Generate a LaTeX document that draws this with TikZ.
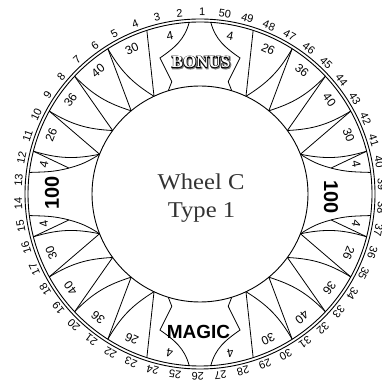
\documentclass[tikz,border=0pt]{standalone}
\usepackage{fontspec}
\setmainfont{Liberation Serif}
\setsansfont{Liberation Sans}
\newfontfamily\bonusfill{Liberation Serif Bold}
\newfontfamily\bonusline{Liberation Serif Bold}[FakeBold=8]
\newfontfamily\bonusshadefont{Liberation Serif Bold}[FakeBold=12]
\usepackage{graphicx}
\begin{document}
\begin{tikzpicture}[x=1pt,y=1pt,
  ringline/.style={line width=0.9pt,draw=black},
  segline/.style={line width=0.8pt,draw=black},
  numlab/.style={font=\fontsize{11}{11}\selectfont\sffamily, inner sep=0pt},
  vallab/.style={font=\fontsize{12}{12}\selectfont\sffamily, inner sep=0pt},
  bigval/.style={font=\fontsize{20}{20}\selectfont\sffamily\bfseries, inner sep=0pt},
  centertext/.style={font=\fontsize{22.6}{22.6}\selectfont, text=black!80, inner sep=0pt, anchor=base},
]
\useasboundingbox (0,0) rectangle (382,383);
\begin{scope}[shift={(200,189)}]
  \coordinate (C) at (0,0);
  \foreach \j in {0,...,49} {
    \coordinate (o\j) at (\j*7.2:172pt);
    \coordinate (n\j) at (\j*7.2:108pt);
  }
  \draw[ringline] (C) circle[radius=175pt];
  \draw[ringline] (C) circle[radius=172pt];
  \draw[ringline] (C) circle[radius=108pt];
  % regular runs
  \foreach \s/\ty in {15/1,27/2,40/1,2/2} {
    \foreach \t/\v in {0/30,1/40,2/36,3/26} {
      \pgfmathtruncatemacro\oa{\s+2*\t}
      \pgfmathtruncatemacro\ob{\s+2*\t+2}
      \pgfmathtruncatemacro\ap{\s+2*\t+1}
      \ifnum\ty=1
        \draw[segline] (o\oa) -- (n\ap);
        \draw[segline] (o\ob) to[bend right=14] (n\ap);
      \else
        \draw[segline] (o\ob) -- (n\ap);
        \draw[segline] (o\oa) to[bend left=14] (n\ap);
      \fi
      \pgfmathsetmacro\ang{\ap*7.2}
      \node[vallab, rotate=\ang-90] (v\ap) at (\ang:160pt) {\v};
    }
  }
  % 100 slots
  \coordinate (xlt) at (168.8:133.6pt);
  \coordinate (xlb) at (191.2:133.6pt);
  \coordinate (xrt) at (11.2:133.6pt);
  \coordinate (xrb) at (348.8:133.6pt);
  \draw[segline] (o23) -- (xlt);
  \draw[segline] (n22) to[out=213,in=15] (xlt) to[out=195,in=2] (o24);
  \draw[segline] (o27) -- (xlb);
  \draw[segline] (n28) to[out=147,in=-15] (xlb) to[out=165,in=-2] (o26);
  \draw[segline] (o2) -- (xrt);
  \draw[segline] (n3) to[out=-33,in=165] (xrt) to[out=-15,in=178] (o1);
  \draw[segline] (o48) -- (xrb);
  \draw[segline] (n47) to[out=33,in=195] (xrb) to[out=15,in=182] (o49);
  % BONUS / MAGIC slots
  \coordinate (pbl) at (106.4:141.8pt);
  \coordinate (qbl) at (104.1:115.8pt);
  \coordinate (rbl) at (107.1:108pt);
  \coordinate (pbr) at (73.6:141.8pt);
  \coordinate (qbr) at (75.9:115.8pt);
  \coordinate (rbr) at (72.9:108pt);
  \coordinate (pml) at (253.6:141.8pt);
  \coordinate (qml) at (255.9:115.8pt);
  \coordinate (rml) at (252.9:108pt);
  \coordinate (pmr) at (286.4:141.8pt);
  \coordinate (qmr) at (284.1:115.8pt);
  \coordinate (rmr) at (287.1:108pt);
  \draw[segline] (o13) to[out=255,in=35] (pbl) -- (qbl) -- (rbl);
  \draw[segline] (o12) to[out=285,in=145] (pbr) -- (qbr) -- (rbr);
  \draw[segline] (o37) to[out=105,in=-35] (pml) -- (qml) -- (rml);
  \draw[segline] (o38) to[out=75,in=215] (pmr) -- (qmr) -- (rmr);
  % small 4 labels
  \foreach \a/\r [count=\i] in {100.8/161pt, 79.2/161pt, 259.2/162pt, 280.8/162pt, 169.2/159pt, 190.8/159pt, 10.8/159pt, 349.2/159pt} {
    \node[vallab, rotate=\a-90] (four\i) at (\a:\r) {4};
  }
  % big labels
  \node[bigval, rotate=90] (hl) at (-148,1) {100};
  \node[bigval, rotate=-90] (hr) at (131,-2.7) {100};
  \node[font=\fontsize{19}{19}\selectfont\sffamily\bfseries, inner sep=0pt] (magic) at (-1.5,-137.7) {MAGIC};
  \node[font=\fontsize{17}{17}\selectfont\bonusshadefont, inner sep=0pt, text=black!50] (bonusshade) at (1.8,131.2) {BONUS};
  \node[font=\fontsize{17}{17}\selectfont\bonusline, inner sep=0pt, text=black] (bonusedge) at (1,132) {BONUS};
  \node[font=\fontsize{17}{17}\selectfont\bonusfill, inner sep=0pt, text=white] (bonus) at (1,132) {BONUS};
  % centre text
  \node[centertext] (wheel) at (1,4) {\scalebox{1.09}[1]{Wheel C}};
  \node[centertext] (type) at (1.5,-23.4) {\scalebox{1.09}[1]{Type 1}};
  % outer numbers
  \foreach \k in {1,...,50} {
    \pgfmathsetmacro\ang{90+(\k-1)*7.2-0.7}
    \node[numlab, rotate=\ang-90] (num\k) at (\ang:182pt) {\k};
  }
\end{scope}
\end{tikzpicture}
\end{document}
